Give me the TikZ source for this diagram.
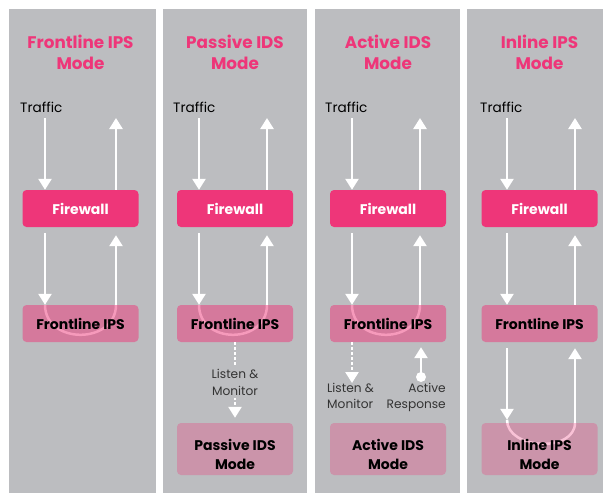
\documentclass[tikz,border=0pt]{standalone}
\usepackage{fontspec}
\setmainfont{Poppins}
\usetikzlibrary{arrows.meta, positioning, backgrounds}
\definecolor{panelgray}{HTML}{BCBDC0}
\definecolor{hotpink}{HTML}{EE3679}
\tikzset{
    %Define standard arrow tip
    >={Triangle[width=13pt,length=11pt]},
}
% lowers the two text lines in the bottom boxes
\newcommand{\modestrut}{\rule{0pt}{22pt}}

\begin{document}
\begin{tikzpicture}[
  x=1pt, y=-1pt,
  every node/.style = {align=center, inner sep=0pt},
  ttl/.style = {font=\fontsize{16.8}{21}\selectfont\bfseries, text=hotpink},
  fw/.style = {fill=hotpink, rounded corners=4pt, minimum width=116pt,
               minimum height=37pt, text=white,
               font=\fontsize{14}{17}\selectfont\bfseries},
  ips/.style = {fill=hotpink, fill opacity=.5, text opacity=1,
                rounded corners=4pt, minimum width=116pt, minimum height=37pt,
                font=\fontsize{14}{17}\selectfont\bfseries},
  mode/.style = {fill=hotpink, fill opacity=.3, text opacity=1,
                 rounded corners=4pt, minimum width=116pt, minimum height=52pt,
                 font=\fontsize{14}{19}\selectfont\bfseries},
  lbl/.style = {font=\fontsize{13.6}{16}\selectfont},
  note/.style = {font=\fontsize{12.2}{16.5}\selectfont, text=black!80},
  dot/.style = {circle, fill=white, minimum size=10pt},
  flow/.style = {->, draw=white, line width=2.5pt},
  tap/.style = {flow, dash pattern=on 3pt off 2pt},
  loop/.style = {draw=white, line width=2.5pt} ]
  \useasboundingbox (0,0) rectangle (603,493);
  \begin{scope}[on background layer]
    \fill[white] (0,0) rectangle (603,493);
    % panels
    \fill[panelgray] (9,9) rectangle (156,493);
    \fill[panelgray] (163,9) rectangle (307,493);
    \fill[panelgray] (315,9) rectangle (460,493);
    \fill[panelgray] (467,9) rectangle (603,493);
  \end{scope}

  % frontline IPS mode
  \node[ttl] (t1) at (80.5,52) {Frontline IPS\\Mode};
  \node[lbl, anchor=west] (tr1) at (20,107) {Traffic};
  \node[fw] (fw1) at (80.5,208.5) {Firewall};
  \node[ips] (ips1) at (80.5,323.5) {Frontline IPS};
  \coordinate (in1) at (45,118);
  \coordinate (out1) at (116,118);
  \draw[flow] (in1) -- (in1 |- fw1.north);
  \draw[flow] (fw1.north -| out1) -- (out1);
  \draw[flow] ([yshift=-6pt]fw1.south -| in1) -- (ips1.north -| in1);
  \draw[flow] (ips1.north -| out1) -- ([yshift=-8pt]fw1.south -| out1);
  \begin{scope}[on background layer]
    \draw[loop] (ips1.north -| in1) .. controls +(0,40) and +(0,40) .. (ips1.north -| out1);
  \end{scope}

  % passive IDS mode
  \node[ttl] (t2) at (235,52) {Passive IDS\\Mode};
  \node[lbl, anchor=west] (tr2) at (173,107) {Traffic};
  \node[fw] (fw2) at (235,208.5) {Firewall};
  \node[ips] (ips2) at (235,323.5) {Frontline IPS};
  \node[mode] (pas2) at (235,449) {\modestrut Passive IDS\\Mode};
  \coordinate (in2) at (199,118);
  \coordinate (out2) at (267,118);
  \draw[flow] (in2) -- (in2 |- fw2.north);
  \draw[flow] (fw2.north -| out2) -- (out2);
  \draw[flow] ([yshift=-6pt]fw2.south -| in2) -- (ips2.north -| in2);
  \draw[flow] (ips2.north -| out2) -- ([yshift=-8pt]fw2.south -| out2);
  \begin{scope}[on background layer]
    \draw[loop] (ips2.north -| in2) .. controls +(0,40) and +(0,40) .. (ips2.north -| out2);
  \end{scope}
  \draw[tap, shorten >=5pt] (ips2.south) -- node[note, fill=panelgray, inner sep=3pt] (lm2) {Listen \&\\Monitor} (pas2.north);

  % active IDS mode
  \node[ttl] (t3) at (388,52) {Active IDS\\Mode};
  \node[lbl, anchor=west] (tr3) at (325,107) {Traffic};
  \node[fw] (fw3) at (388,208.5) {Firewall};
  \node[ips] (ips3) at (388,323.5) {Frontline IPS};
  \node[mode] (act3) at (388,449) {\modestrut Active IDS\\Mode};
  \coordinate (in3) at (352,118);
  \coordinate (out3) at (420,118);
  \draw[flow] (in3) -- (in3 |- fw3.north);
  \draw[flow] (fw3.north -| out3) -- (out3);
  \draw[flow] ([yshift=-6pt]fw3.south -| in3) -- (ips3.north -| in3);
  \draw[flow] (ips3.north -| out3) -- ([yshift=-8pt]fw3.south -| out3);
  \begin{scope}[on background layer]
    \draw[loop] (ips3.north -| in3) .. controls +(0,40) and +(0,40) .. (ips3.north -| out3);
  \end{scope}
  \node[note, anchor=north west, align=left] (lm3) at (327,383) {Listen \&\\Monitor};
  \node[note, anchor=north east, align=right] (ar3) at (446,383) {Active\\Response};
  \node[dot] (rsp3) at (421,377) {};
  \draw[tap] (ips3.south -| in3) -- (lm3.north -| in3);
  \draw[flow] (rsp3.center) -- ([yshift=-5pt]ips3.south -| rsp3);

  % inline IPS mode
  \node[ttl] (t4) at (539.5,52) {Inline IPS\\Mode};
  \node[lbl, anchor=west] (tr4) at (480,107) {Traffic};
  \node[fw] (fw4) at (539.5,208.5) {Firewall};
  \node[ips] (ips4) at (539.5,323.5) {Frontline IPS};
  \node[mode] (inl4) at (539.5,449) {\modestrut Inline IPS\\Mode};
  \coordinate (in4) at (507,118);
  \coordinate (out4) at (575,118);
  \draw[flow] (in4) -- (in4 |- fw4.north);
  \draw[flow] (fw4.north -| out4) -- (out4);
  \draw[flow] ([yshift=-6pt]fw4.south -| in4) -- (ips4.north -| in4);
  \draw[flow] (ips4.north -| out4) -- ([yshift=-8pt]fw4.south -| out4);
  \draw[flow] ([yshift=-6pt]ips4.south -| in4) -- ([yshift=3pt]inl4.north -| in4);
  \draw[flow] (inl4.north -| out4) -- ([yshift=-6pt]ips4.south -| out4);
  \begin{scope}[on background layer]
    \draw[loop] ([yshift=3pt]inl4.north -| in4) .. controls +(0,30) and +(0,30) .. (inl4.north -| out4);
  \end{scope}
\end{tikzpicture}
\end{document}
